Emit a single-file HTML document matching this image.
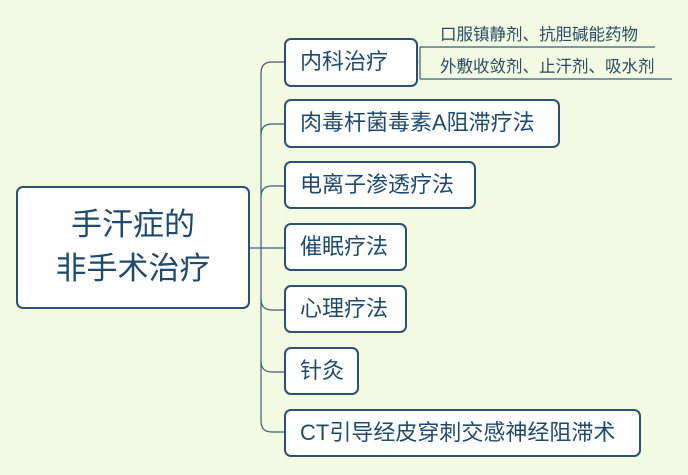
<!DOCTYPE html>
<html><head><meta charset="utf-8"><style>
body{margin:0;width:688px;height:475px;background:#f2fbe1;position:relative;overflow:hidden;font-family:"Liberation Sans","Noto Sans CJK SC",sans-serif;color:#1f4a6b}
.b{position:absolute;box-sizing:border-box;background:#fff;border:2px solid #2a5172;border-radius:7px;font-size:22px;line-height:44px;padding-left:14px;white-space:nowrap}
.s{position:absolute;font-size:16.5px;color:#2a4a66;white-space:nowrap}
svg{position:absolute;left:0;top:0}
</style></head><body>
<svg width="688" height="475" fill="none">
<g stroke="#3a6078" stroke-width="1.2">
<path d="M250 248H261"/>
<path d="M284 62H272Q261 62 261 73V421Q261 432 272 432H284"/>
<path d="M261 135Q261 124 272 124H284"/>
<path d="M261 197Q261 186 272 186H284"/>
<path d="M261 248H284"/>
<path d="M261 299Q261 310 272 310H284"/>
<path d="M261 361Q261 372 272 372H284"/>
<path d="M420 47V79"/>
<path d="M420 47H655"/>
<path d="M420 79H672"/>
</g>
<circle cx="414" cy="62" r="4" stroke="#9aa8c4" fill="#fff"/>
<path d="M411.5 62H416.5" stroke="#9aa8c4"/>
</svg>
<div class="b" style="left:16px;top:186px;width:234px;height:123px;font-size:31px;line-height:44px;padding:15px 0 0;text-align:center">手汗症的<br>非手术治疗</div>
<div class="b" style="left:284px;top:38px;width:134px;height:49px">内科治疗</div>
<div class="b" style="left:284px;top:99px;width:276px;height:49px">肉毒杆菌毒素A阻滞疗法</div>
<div class="b" style="left:284px;top:161px;width:192px;height:48px">电离子渗透疗法</div>
<div class="b" style="left:284px;top:223px;width:123px;height:48px">催眠疗法</div>
<div class="b" style="left:284px;top:285px;width:123px;height:48px">心理疗法</div>
<div class="b" style="left:284px;top:347px;width:75px;height:48px">针灸</div>
<div class="b" style="left:284px;top:409px;width:357px;height:48px">CT引导经皮穿刺交感神经阻滞术</div>
<div class="s" style="left:440px;top:21px">口服镇静剂、抗胆碱能药物</div>
<div class="s" style="left:440px;top:53px">外敷收敛剂、止汗剂、吸水剂</div>
</body></html>
